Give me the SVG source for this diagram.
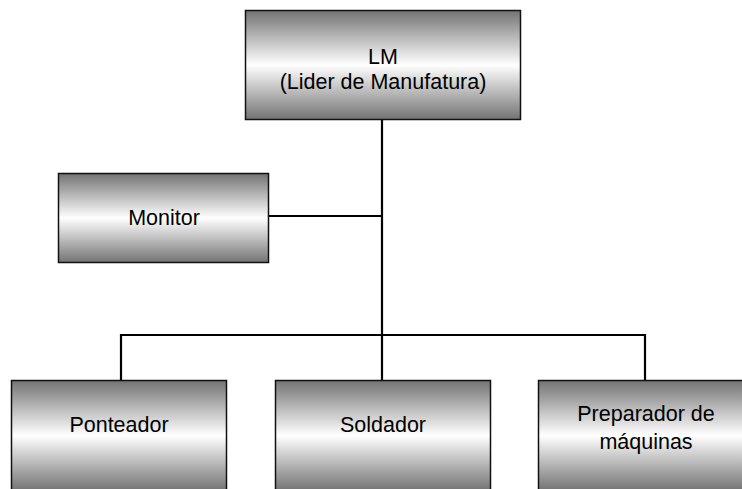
<svg xmlns="http://www.w3.org/2000/svg" width="742" height="489" viewBox="0 0 742 489">
  <defs>
    <linearGradient id="g" x1="0" y1="0" x2="0" y2="1">
      <stop offset="0" stop-color="#737373"/>
      <stop offset="0.5" stop-color="#ffffff"/>
      <stop offset="1" stop-color="#737373"/>
    </linearGradient>
  </defs>
  <style>
    .box { fill: url(#g); stroke: #111; stroke-width: 1.5; }
    .lbl { font-family: "Liberation Sans", Arial, sans-serif; font-size: 21.5px; fill: #000; text-anchor: middle; }
    .con { stroke: #000; stroke-width: 2.2; fill: none; }
  </style>
  <rect width="742" height="489" fill="#fff"/>
  <g id="connectors">
    <line class="con" x1="382" y1="120" x2="382" y2="380"/>
    <line class="con" x1="269" y1="216" x2="382" y2="216"/>
    <polyline class="con" points="121,380 121,335 645,335 645,380"/>
  </g>
  <g id="lm">
    <rect class="box" x="245.5" y="10.5" width="275" height="109"/>
    <text class="lbl" x="383" y="64">LM</text>
    <text class="lbl" x="383" y="89">(Lider de Manufatura)</text>
  </g>
  <g id="monitor">
    <rect class="box" x="58.5" y="173.5" width="210" height="89"/>
    <text class="lbl" x="164" y="225">Monitor</text>
  </g>
  <g id="ponteador">
    <rect class="box" x="11.5" y="380.5" width="215" height="110"/>
    <text class="lbl" x="119" y="432">Ponteador</text>
  </g>
  <g id="soldador">
    <rect class="box" x="275.5" y="380.5" width="215" height="110"/>
    <text class="lbl" x="383" y="432">Soldador</text>
  </g>
  <g id="preparador">
    <rect class="box" x="538.5" y="380.5" width="215" height="110"/>
    <text class="lbl" x="646" y="421">Preparador de</text>
    <text class="lbl" x="646" y="449">máquinas</text>
  </g>
</svg>
